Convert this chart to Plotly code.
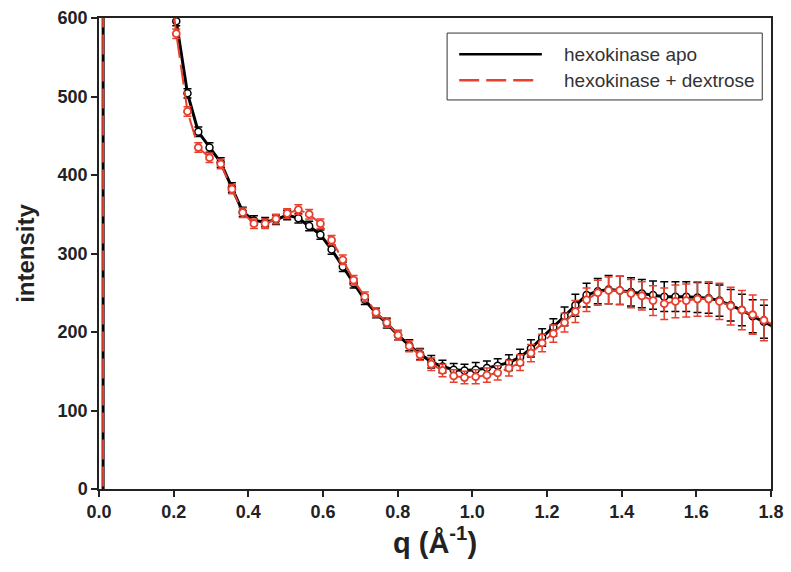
import plotly.graph_objects as go

# ---- data ----
q_pre = [0.011, 0.012, 0.148, 0.177]
apo_pre = [-100, 5000, 900, 720]
dex_pre = [-100, 5000, 880, 700]

q = [0.207, 0.237, 0.266, 0.296, 0.326, 0.356, 0.385, 0.415, 0.445, 0.474,
     0.504, 0.534, 0.563, 0.593, 0.623, 0.653, 0.682, 0.712, 0.742, 0.771,
     0.801, 0.831, 0.860, 0.890, 0.920, 0.950, 0.979, 1.009, 1.039, 1.068,
     1.098, 1.128, 1.157, 1.187, 1.217, 1.247, 1.276, 1.306, 1.336, 1.365,
     1.395, 1.425, 1.454, 1.484, 1.514, 1.544, 1.573, 1.603, 1.633, 1.662,
     1.692, 1.722, 1.751, 1.781, 1.811]

apo = [596, 504, 455, 435, 416, 384, 353, 342, 340, 343,
       349, 345, 335, 324, 305, 283, 262, 241, 224, 211,
       196, 183, 172, 162, 156, 152, 151, 152, 154, 157,
       161, 168, 179, 193, 206, 220, 234, 247, 252, 254,
       253, 251, 249, 247, 245, 245, 245, 244, 243, 240,
       234, 228, 220, 213, 206]

dex = [580, 481, 435, 422, 414, 382, 352, 338, 338, 344,
       351, 356, 350, 338, 317, 292, 266, 245, 225, 212,
       196, 182, 171, 159, 151, 144, 142, 143, 145, 148,
       154, 161, 173, 186, 198, 212, 226, 241, 250, 253,
       253, 249, 246, 240, 236, 239, 240, 242, 242, 239,
       233, 228, 222, 215, 208]

apo_err = [6, 6, 6, 6, 6, 6, 6, 6, 6, 6,
           6, 6, 6, 6, 6, 6, 6, 6, 6, 6,
           6, 7, 7, 8, 8, 8, 8, 9, 9, 9,
           10, 10, 11, 11, 11, 12, 14, 15, 16, 18,
           18, 18, 18, 18, 19, 19, 19, 19, 19, 20,
           20, 20, 21, 21, 21]

dex_err = [6, 6, 6, 6, 6, 6, 6, 6, 6, 6,
           6, 6, 6, 6, 6, 6, 6, 6, 6, 6,
           6, 7, 7, 8, 8, 8, 8, 9, 9, 9,
           10, 10, 11, 11, 11, 12, 14, 15, 16, 17,
           18, 18, 18, 19, 20, 21, 21, 22, 22, 23,
           24, 25, 25, 26, 26]

names = ["hexokinase apo", "hexokinase + dextrose"]
BLACK = "#000000"
RED = "#e8402f"
FONT = "Liberation Sans, Arial, sans-serif"

fig = go.Figure()

fig.add_trace(go.Scatter(
    x=q_pre + q, y=apo_pre + apo,
    mode="lines+markers", name=names[0],
    line=dict(color=BLACK, width=3),
    marker=dict(symbol="circle", size=7, color="white",
                line=dict(color=BLACK, width=1.5)),
    error_y=dict(type="data", array=[0] * len(q_pre) + apo_err,
                 color=BLACK, thickness=1.5, width=4),
    showlegend=False,
))

fig.add_trace(go.Scatter(
    x=q_pre + q, y=dex_pre + dex,
    mode="lines+markers", name=names[1],
    line=dict(color=RED, width=2, dash="20px,7px"),
    marker=dict(symbol="circle", size=7, color="white",
                line=dict(color=RED, width=1.8)),
    error_y=dict(type="data", array=[0] * len(q_pre) + dex_err,
                 color=RED, thickness=1.5, width=4),
    showlegend=False,
))

# manual legend (paper coordinates)
fig.add_shape(type="rect", xref="paper", yref="paper",
              x0=0.518, x1=0.987, y0=0.826, y1=0.968,
              line=dict(color="#333333", width=1), fillcolor="white", layer="above")
fig.add_shape(type="line", xref="paper", yref="paper",
              x0=0.536, x1=0.659, y0=0.923, y1=0.923,
              line=dict(color=BLACK, width=2.5), layer="above")
fig.add_shape(type="line", xref="paper", yref="paper",
              x0=0.536, x1=0.648, y0=0.868, y1=0.868,
              line=dict(color=RED, width=2.5, dash="20px,7px"), layer="above")
for name, yy in zip(names, [0.923, 0.868]):
    fig.add_annotation(xref="paper", yref="paper", x=0.689, y=yy,
                       text=name, showarrow=False, xanchor="left", yanchor="middle",
                       font=dict(family=FONT, size=19, color="#333333"))

fig.update_layout(
    width=791, height=572,
    margin=dict(l=99, r=20, t=18, b=83),
    paper_bgcolor="white", plot_bgcolor="white",
    font=dict(family=FONT, color="black"),
)

fig.update_xaxes(
    range=[0, 1.8], dtick=0.2, tick0=0, tickformat=".1f", automargin=False,
    showgrid=False, zeroline=False,
    showline=True, linecolor="#222222", linewidth=1.5, mirror=True,
    ticks="outside", ticklen=6, tickwidth=1.5, tickcolor="#222222",
    tickfont=dict(family=FONT, size=18, color="#222222", weight="bold"),
    title=dict(text="q (Å<sup>-1</sup>)", standoff=8,
               font=dict(family=FONT, size=29, color="#222222", weight="bold")),
)
fig.update_yaxes(
    range=[0, 600], dtick=100, tick0=0, automargin=False,
    showgrid=False, zeroline=False,
    showline=True, linecolor="#222222", linewidth=1.5, mirror=True,
    ticks="outside", ticklen=6, tickwidth=1.5, tickcolor="#222222",
    tickfont=dict(family=FONT, size=18, color="#222222", weight="bold"),
    title=dict(text="intensity", standoff=16,
               font=dict(family=FONT, size=24, color="#222222", weight="bold")),
)

fig.write_html("out.html",
               config={"displayModeBar": False},
               post_script="document.body.style.margin='0px';document.body.style.overflow='hidden';")
